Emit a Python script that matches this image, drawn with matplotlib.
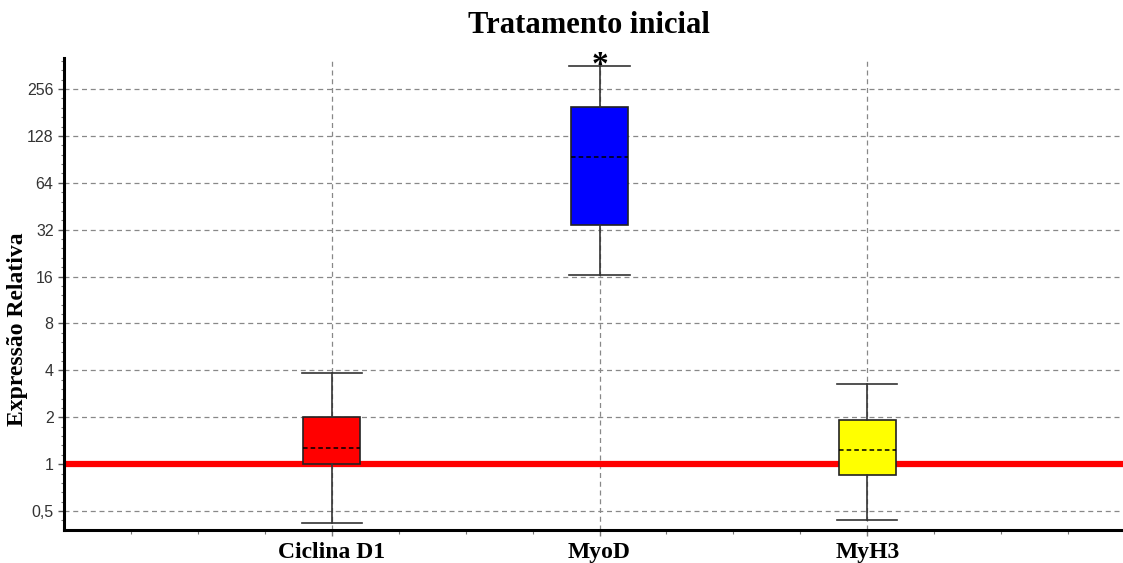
import numpy as np
import matplotlib.pyplot as plt
from matplotlib.ticker import FixedLocator, FuncFormatter

# valores (escala log2)
genes = ["Ciclina D1", "MyoD", "MyH3"]
whis_lo = [0.42, 16.5, 0.44]
q1 = [1.0, 34.5, 0.85]
mediana = [1.27, 94, 1.23]
q3 = [2.0, 196, 1.91]
whis_hi = [3.83, 360, 3.25]
cores = ["#ff0000", "#0000ff", "#ffff00"]
yticks = [0.5, 1, 2, 4, 8, 16, 32, 64, 128, 256]

stats = []
for g, lo, a, m, b, hi in zip(genes, whis_lo, q1, mediana, q3, whis_hi):
    stats.append({"label": g, "whislo": lo, "q1": a, "med": m, "q3": b, "whishi": hi, "fliers": []})

fig = plt.figure(figsize=(11.23, 5.63), dpi=100)
ax = fig.add_axes([0.057, 0.059, 0.943, 0.838])

ax.set_yscale("log", base=2)
ax.set_ylim(0.379, 405)
ax.set_xlim(0, 3.955)

ax.axhline(1, color="#ff0000", lw=4.5, zorder=1)

pos = np.arange(1, len(genes) + 1)
bp = ax.bxp(stats, positions=pos, widths=0.213, patch_artist=True, showfliers=False,
            boxprops=dict(edgecolor="#222222", linewidth=1.2),
            whiskerprops=dict(color="#333333", linewidth=1.2),
            capprops=dict(color="#333333", linewidth=1.2),
            medianprops=dict(color="black", linewidth=1.1, linestyle=(0, (3, 2))),
            capwidths=0.225, zorder=3)
for patch, c in zip(bp["boxes"], cores):
    patch.set_facecolor(c)

# asterisco de significância sobre MyoD
ax.text(2, whis_hi[1] * 0.8, "*", ha="center", va="bottom", fontsize=24,
        fontweight="bold", family="Liberation Serif", zorder=4)

ax.yaxis.set_major_locator(FixedLocator(yticks))
minors = [2 ** (k + j / 5) for k in range(-2, 9) for j in range(1, 5)]
ax.yaxis.set_minor_locator(FixedLocator(minors))
ax.yaxis.set_major_formatter(FuncFormatter(lambda v, p: ("%g" % v).replace(".", ",")))
ax.yaxis.set_minor_formatter(FuncFormatter(lambda v, p: ""))

ax.set_xticks(pos)
ax.set_xticklabels(genes, fontsize=17, fontweight="bold", family="Liberation Serif")
ax.xaxis.set_minor_locator(FixedLocator(np.arange(0.25, 4, 0.25)))

ax.tick_params(axis="y", which="major", labelsize=11.5, length=4, width=1, colors="#555555", labelcolor="#333333")
ax.tick_params(axis="y", which="minor", length=2, width=0.8, colors="#777777")
ax.tick_params(axis="x", which="major", length=4, width=1, colors="#777777", labelcolor="black", pad=5)
ax.tick_params(axis="x", which="minor", length=3, width=0.8, colors="#777777")
for lab in ax.get_yticklabels():
    lab.set_family("Liberation Sans")

ax.grid(True, which="major", axis="both", color="#888888", linestyle=(0, (4, 3)), linewidth=0.9, zorder=0)
ax.set_axisbelow(True)

ax.spines["top"].set_visible(False)
ax.spines["right"].set_visible(False)
ax.spines["left"].set_linewidth(2.2)
ax.spines["bottom"].set_linewidth(2.2)

fig.text(0.016, 0.416, "Expressão Relativa", rotation=90, ha="center", va="center",
         fontsize=17, fontweight="bold", family="Liberation Serif")
fig.text(0.524, 0.954, "Tratamento inicial", ha="center", va="center",
         fontsize=22, fontweight="bold", family="Liberation Serif")

fig.savefig("out.png", dpi=100)
